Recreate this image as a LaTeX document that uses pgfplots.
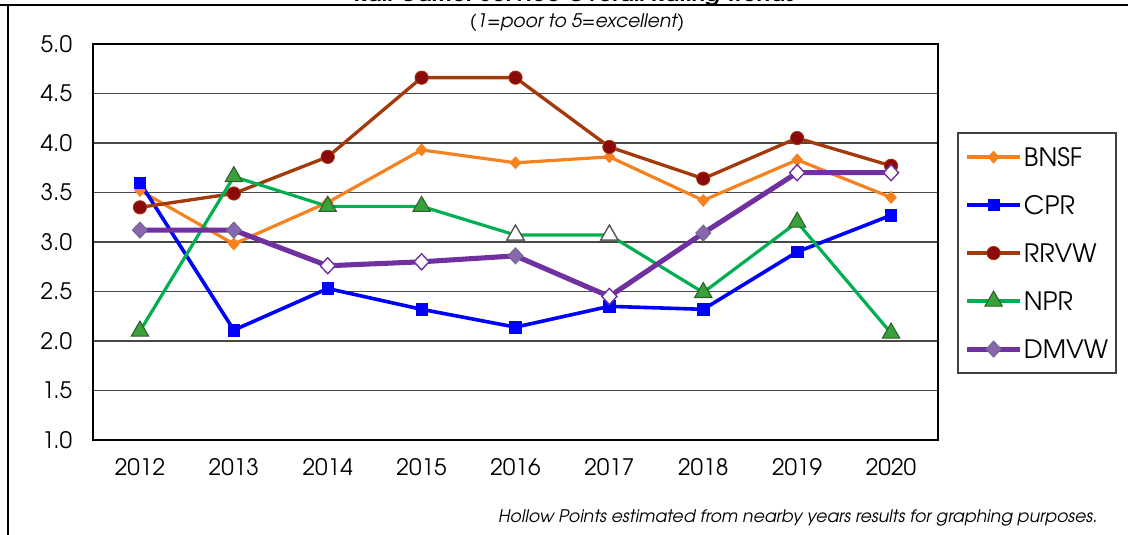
\documentclass[border=0pt]{standalone}
\usepackage{fontspec}
\setmainfont{TeX Gyre Adventor}
\usepackage{pgfplots}
\pgfplotsset{compat=1.18}
\definecolor{bnsf}{HTML}{F5821F}
\definecolor{cpr}{HTML}{0000FF}
\definecolor{rrvwl}{HTML}{A33A0C}
\definecolor{rrvwm}{HTML}{8B0A0A}
\definecolor{nprl}{HTML}{00B050}
\definecolor{nprm}{HTML}{3AA03A}
\definecolor{npre}{HTML}{2D5F2D}
\definecolor{dmvw}{HTML}{7030A0}
\definecolor{dmvwm}{HTML}{8A66B0}
\definecolor{dmvwe}{HTML}{6A6A8A}
\begin{document}
\begin{tikzpicture}[x=0.75pt,y=0.75pt]
\useasboundingbox (0,0) rectangle (1128,535);
\clip (0,0) rectangle (1128,535);
\draw[line width=1.5pt] (0,530) -- (1128,530);
\draw[line width=1.2pt] (8,-5) -- (8,530);
\node[anchor=base, inner sep=0pt, font=\bfseries\itshape\fontsize{17}{20}\selectfont] at (575,533) {Rail Carrier Service Overall Rating Trends};
\node[inner sep=0pt, font=\itshape\fontsize{14}{16}\selectfont] at (577,512) {(1=poor to 5=excellent)};
\node[anchor=east, inner sep=0pt, font=\itshape\fontsize{13}{15}\selectfont] at (1098,17) {Hollow Points estimated from nearby years results for graphing purposes.};
\begin{axis}[
  at={(69.75pt,71.25pt)}, anchor=south west,
  scale only axis, width=633.75pt, height=297pt,
  xmin=2011.5, xmax=2020.5, ymin=1, ymax=5,
  xtick={2012,2013,...,2020}, ytick={1,1.5,...,5},
  major tick length=0pt,
  axis line style={line width=1.6pt, black},
  ymajorgrids, grid style={line width=1.2pt, black!72},
  x tick label style={/pgf/number format/1000 sep={}, inner sep=0pt, anchor=north, yshift=-14pt},
  y tick label style={/pgf/number format/fixed, /pgf/number format/fixed zerofill, /pgf/number format/precision=1, inner sep=0pt, anchor=east, xshift=-15.5pt},
  /pgf/number format/assume math mode=true,
  tick label style={font=\fontsize{17}{19}\selectfont},
  legend style={at={(1.0225,0.472)}, anchor=west, draw=black!75, line width=1.2pt,
    font=\fontsize{19}{21}\selectfont, row sep=20pt, inner xsep=5pt, inner ysep=10pt,
    nodes={inner sep=1pt, text height=14pt, text depth=0pt}},
  legend cell align=left,
  legend image code/.code={\draw[mark repeat=2,mark phase=2,#1] plot coordinates {(0cm,0cm) (0.7cm,0cm) (1.4cm,0cm)};},
]
\addplot[color=bnsf, line width=2.4pt, mark=diamond*, mark size=4.5pt, mark options={solid, fill=bnsf, draw=bnsf, line width=0.5pt, xscale=1.2}]
 coordinates {(2012,3.52) (2013,2.98) (2014,3.40) (2015,3.93) (2016,3.80) (2017,3.86) (2018,3.42) (2019,3.83) (2020,3.45)};
\addlegendentry{BNSF}
\addplot[color=cpr, line width=2.7pt, mark=square*, mark size=4.3pt, mark options={solid, fill=cpr, draw=cpr, line width=0.5pt}]
 coordinates {(2012,3.60) (2013,2.11) (2014,2.53) (2015,2.32) (2016,2.14) (2017,2.35) (2018,2.32) (2019,2.90) (2020,3.27)};
\addlegendentry{CPR}
\addplot[color=rrvwl, line width=2.5pt, mark=*, mark size=5pt, mark options={solid, fill=rrvwm, draw=rrvwl, line width=0.6pt}]
 coordinates {(2012,3.35) (2013,3.49) (2014,3.86) (2015,4.66) (2016,4.66) (2017,3.96) (2018,3.64) (2019,4.05) (2020,3.77)};
\addlegendentry{RRVW}
\addplot[color=nprl, line width=2.4pt, mark=triangle*, mark size=7.5pt, mark options={solid, fill=nprm, draw=npre, line width=0.8pt}]
 coordinates {(2012,2.10) (2013,3.66) (2014,3.36) (2015,3.36) (2016,3.07) (2017,3.07) (2018,2.49) (2019,3.20) (2020,2.08)};
\addlegendentry{NPR}
\addplot[color=dmvw, line width=3.8pt, mark=diamond*, mark size=6pt, mark options={solid, fill=dmvwm, draw=dmvwe, line width=0.7pt, xscale=1.25}]
 coordinates {(2012,3.12) (2013,3.12) (2014,2.76) (2015,2.80) (2016,2.86) (2017,2.45) (2018,3.09) (2019,3.70) (2020,3.70)};
\addlegendentry{DMVW}
% hollow (estimated) points
\addplot[forget plot, only marks, mark=triangle*, mark size=7.5pt, mark options={solid, fill=white, draw=black!65, line width=1pt}]
 coordinates {(2016,3.07) (2017,3.07)};
\addplot[forget plot, only marks, mark=diamond*, mark size=6pt, mark options={solid, fill=white, draw=dmvw, line width=1pt, xscale=1.25}]
 coordinates {(2014,2.76) (2015,2.80) (2017,2.45) (2019,3.70) (2020,3.70)};
\end{axis}
\end{tikzpicture}
\end{document}
